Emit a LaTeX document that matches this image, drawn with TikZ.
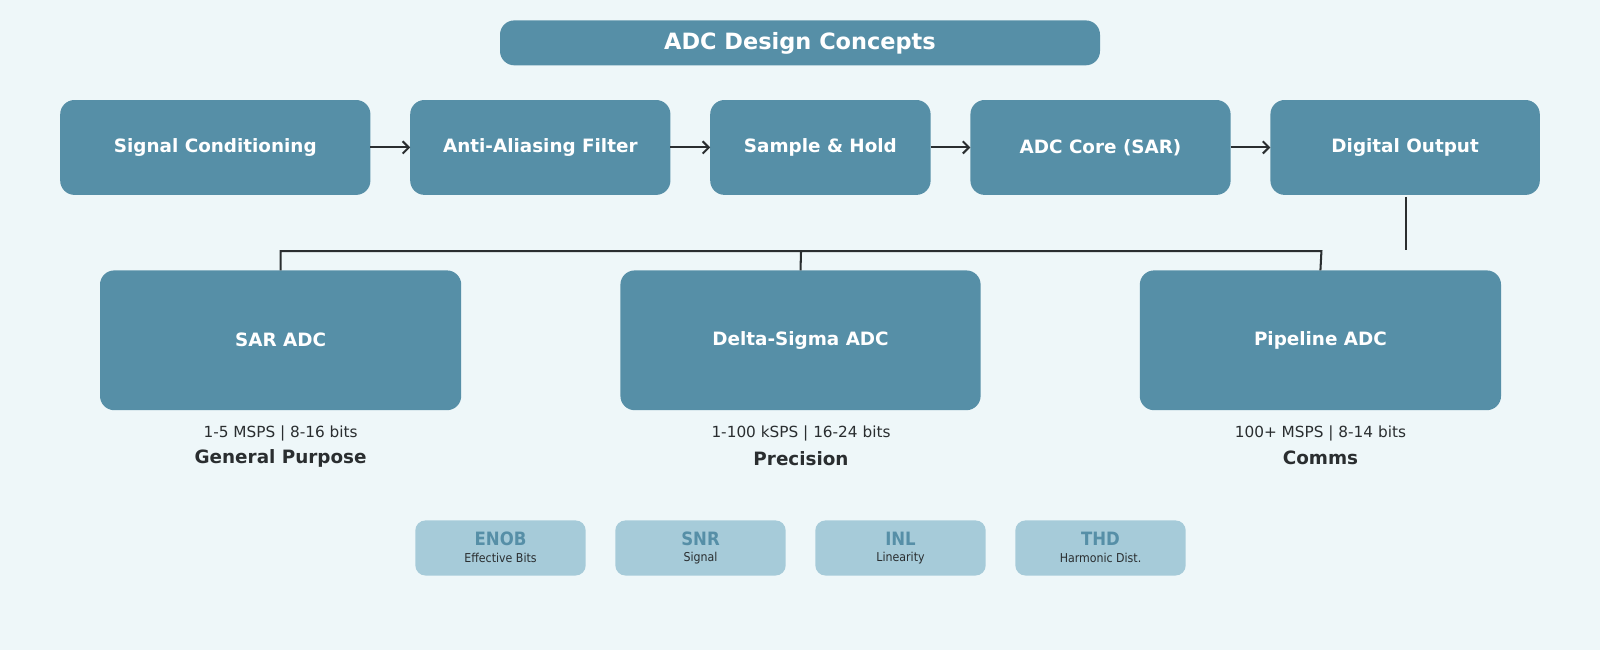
\documentclass[tikz,border=0pt]{standalone}
\usepackage{fontspec}
\setmainfont{DejaVu Sans}
\newfontfamily\condfont{DejaVu Sans Condensed}
\usetikzlibrary{arrows.meta}
\definecolor{bg}{HTML}{EEF7F9}
\definecolor{main}{HTML}{568FA7}
\definecolor{light}{HTML}{A6CBD9}
\definecolor{ink}{HTML}{2A2E30}
\begin{document}
\begin{tikzpicture}[x=0.5pt,y=-0.5pt,
  box/.style={fill=main,rounded corners=7pt,text=white,font=\bfseries\fontsize{9}{11}\selectfont},
  mbox/.style={fill=light,rounded corners=5pt},
  conn/.style={draw=ink,line width=1pt},
  arr/.style={conn,-{Straight Barb[length=3pt,width=6pt]}}]
\fill[bg] (0,0) rectangle (1568,637);
\useasboundingbox (0,0) rectangle (1568,637);
\def\bx#1#2#3#4#5#6{\path[box] (#2,#3) rectangle (#4,#5); \node[text=white,font=\bfseries\fontsize{9}{11}\selectfont] (#1) at ({(#2+#4)/2},{(#3+#5)/2}) {#6};
 \coordinate (#1W) at (#2,{(#3+#5)/2}); \coordinate (#1E) at (#4,{(#3+#5)/2});
 \coordinate (#1N) at ({(#2+#4)/2},#3); \coordinate (#1S) at ({(#2+#4)/2},#5);}
\path[box] (490,20) rectangle (1078,64);
\node[text=white,font=\bfseries\fontsize{11}{13}\selectfont] (title) at (784,43) {ADC Design Concepts};
\bx{a}{59}{98}{363}{191}{Signal Conditioning}
\bx{b}{402}{98}{657}{191}{Anti-Aliasing Filter}
\bx{c}{696}{98}{912}{191}{Sample \& Hold}
\bx{d}{951}{98}{1206}{191}{ADC Core (SAR)}
\bx{e}{1245}{98}{1509}{191}{Digital Output}
\draw[arr] (aE) -- (bW);
\draw[arr] (bE) -- (cW);
\draw[arr] (cE) -- (dW);
\draw[arr] (dE) -- (eW);
\bx{s}{98}{265}{452}{402}{SAR ADC}
\bx{t}{608}{265}{961}{402}{Delta-Sigma ADC}
\bx{u}{1117}{265}{1471}{402}{Pipeline ADC}
\coordinate (eD) at (1378,193); \coordinate (eD2) at (1378,245);
\draw[conn] (eD) -- (eD2);
\draw[conn] (sN) -- (275,246) -- (1295,246) -- (uN);
\draw[conn] (785,246) -- (tN);
\foreach \n/\x/\sp/\lb in {p1/275/1-5 MSPS | 8-16 bits/General Purpose, p2/785/1-100 kSPS | 16-24 bits/Precision / Audio, p3/1294/100+ MSPS | 8-14 bits/Comms / Video}{
 \node[text=ink,font=\fontsize{7.5}{9}\selectfont] (\n a) at (\x,425) {\sp};
 \node[text=ink,font=\bfseries\fontsize{9}{11}\selectfont] (\n b) at (\x,449) {\lb};}
\foreach \n/\x/\tt/\st in {m1/407/ENOB/Effective Bits, m2/603/SNR/Signal / Noise, m3/799/INL/Linearity, m4/995/THD/Harmonic Dist.}{
 \path[mbox] (\x,510) rectangle (\x+167,564);
 \node[text=main,font=\condfont\bfseries\fontsize{9}{11}\selectfont] (\n t) at (\x+83.5,528) {\tt};
 \node[text=ink,font=\condfont\fontsize{6}{7}\selectfont] (\n s) at (\x+83.5,547) {\st};}
\end{tikzpicture}
\end{document}
